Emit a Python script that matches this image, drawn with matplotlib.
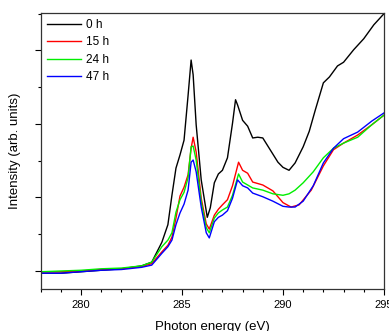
import matplotlib
matplotlib.use("Agg")
import matplotlib.pyplot as plt
from matplotlib.ticker import MultipleLocator, NullFormatter

plt.rcParams['font.family'] = ['Liberation Sans', 'DejaVu Sans']

energy_0h = [278, 279, 280, 281, 282, 283, 283.5, 284, 284.3, 284.5, 284.7, 284.9, 285.1, 285.3,
             285.45, 285.55, 285.7, 285.95, 286.25, 286.4, 286.6, 286.8, 287.0, 287.25, 287.5,
             287.65, 287.75, 288.0, 288.25, 288.5, 288.75, 289.0, 289.25, 289.5, 289.75, 290.0,
             290.3, 290.6, 291.0, 291.3, 291.6, 292.0, 292.3, 292.7, 293.0, 293.5, 294.0, 294.5, 295.0]
int_0h = [-0.03, -0.03, -0.01, 0.01, 0.03, 0.07, 0.12, 0.39, 0.63, 1.03, 1.40, 1.58, 1.78, 2.39,
          2.87, 2.67, 1.99, 1.24, 0.73, 0.86, 1.20, 1.32, 1.37, 1.54, 2.01,
          2.33, 2.26, 2.05, 1.97, 1.81, 1.82, 1.81, 1.70, 1.59, 1.48, 1.41,
          1.37, 1.47, 1.69, 1.90, 2.19, 2.56, 2.64, 2.79, 2.84, 3.01, 3.16, 3.35, 3.50]

energy_15h = [278, 279, 280, 281, 282, 283, 283.5, 284, 284.3, 284.5, 284.7, 284.9, 285.1, 285.3,
              285.45, 285.55, 285.7, 285.95, 286.2, 286.35, 286.6, 286.8, 287.0, 287.25, 287.5,
              287.8, 288.0, 288.25, 288.5, 289.0, 289.5, 290.0, 290.4, 290.8, 291.4, 292.0,
              292.5, 293.0, 293.7, 294.4, 295.0]
int_15h = [-0.01, -0.01, 0.00, 0.02, 0.03, 0.06, 0.10, 0.26, 0.35, 0.46, 0.72, 1.02, 1.14, 1.31,
           1.67, 1.82, 1.62, 0.99, 0.64, 0.57, 0.76, 0.84, 0.90, 0.97, 1.16,
           1.48, 1.37, 1.33, 1.21, 1.17, 1.09, 0.93, 0.87, 0.90, 1.10, 1.43,
           1.65, 1.74, 1.85, 1.99, 2.12]

energy_24h = [278, 280, 281, 282, 283, 283.5, 284, 284.3, 284.5, 284.7, 284.9, 285.1, 285.3,
              285.45, 285.55, 285.7, 285.95, 286.2, 286.35, 286.6, 286.8, 287.0, 287.25, 287.5,
              287.8, 288.0, 288.25, 288.5, 289.0, 289.5, 290.0, 290.3, 290.6, 291.0, 291.5, 292.0,
              292.5, 293.0, 293.7, 294.4, 295.0]
int_24h = [-0.01, 0.01, 0.03, 0.04, 0.07, 0.12, 0.33, 0.42, 0.52, 0.80, 0.97, 1.07, 1.27,
           1.69, 1.70, 1.51, 0.94, 0.59, 0.52, 0.72, 0.79, 0.83, 0.87, 1.03,
           1.32, 1.21, 1.17, 1.13, 1.10, 1.05, 1.03, 1.05, 1.10, 1.20, 1.35, 1.54,
           1.67, 1.74, 1.82, 1.99, 2.12]

energy_47h = [278, 279, 280, 281, 282, 283, 283.5, 284, 284.3, 284.5, 284.7, 284.9, 285.1, 285.3,
              285.45, 285.55, 285.7, 285.95, 286.2, 286.35, 286.6, 286.8, 287.0, 287.25, 287.5,
              287.75, 288.0, 288.25, 288.5, 289.0, 289.5, 290.0, 290.3, 290.6, 291.0, 291.5, 292.0,
              292.5, 293.0, 293.7, 294.4, 295.0]
int_47h = [-0.03, -0.03, -0.01, 0.01, 0.02, 0.05, 0.08, 0.24, 0.33, 0.42, 0.63, 0.79, 0.91, 1.10,
           1.48, 1.51, 1.35, 0.87, 0.52, 0.45, 0.67, 0.73, 0.76, 0.82, 0.99,
           1.24, 1.16, 1.13, 1.06, 1.01, 0.95, 0.88, 0.87, 0.87, 0.95, 1.16, 1.47,
           1.67, 1.80, 1.89, 2.04, 2.15]

labels = ["0 h", "15 h", "24 h", "47 h"]
colors = ["black", "#ff0000", "#00ee00", "#0000ff"]

fig = plt.figure(figsize=(3.89, 3.31), dpi=100)
ax = fig.add_axes([0.1046, 0.1269, 0.8824, 0.8338])

series = [(energy_0h, int_0h), (energy_15h, int_15h), (energy_24h, int_24h), (energy_47h, int_47h)]
for (e, v), lab, c in zip(series, labels, colors):
    ax.plot(e, v, color=c, lw=1.0, label=lab)

ax.set_xlim(278, 295)
ax.set_ylim(-0.245, 3.51)
ax.xaxis.set_major_locator(MultipleLocator(5))
ax.xaxis.set_minor_locator(MultipleLocator(1))
ax.yaxis.set_major_locator(MultipleLocator(1))
ax.yaxis.set_minor_locator(MultipleLocator(0.5))
ax.yaxis.set_major_formatter(NullFormatter())
ax.tick_params(which='major', direction='out', length=4.5, width=0.8, labelsize=8)
ax.tick_params(which='minor', direction='out', length=2.5, width=0.8)
for s in ax.spines.values():
    s.set_linewidth(0.9)
    s.set_color('#333333')

ax.set_xlabel("Photon energy (eV)", fontsize=9.5, labelpad=8)
ax.set_ylabel("Intensity (arb. units)", fontsize=9.5, labelpad=6)

leg = ax.legend(loc='upper left', frameon=False, fontsize=8.5, handlelength=2.9,
                handletextpad=0.4, labelspacing=0.45, borderaxespad=0.0,
                bbox_to_anchor=(0.005, 0.995))

fig.savefig("out.png", dpi=100)
